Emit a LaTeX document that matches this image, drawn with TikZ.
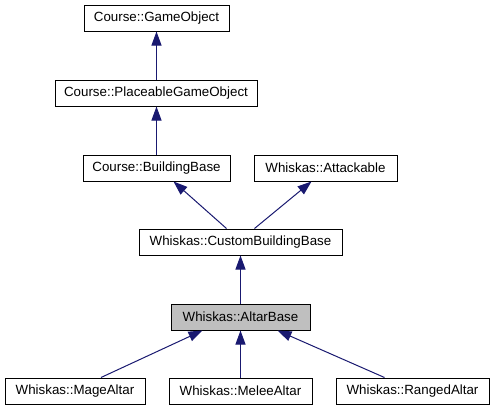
\documentclass[tikz,border=0pt]{standalone}
\usepackage{fontspec}
\setmainfont{Liberation Sans}
\usetikzlibrary{arrows.meta}
\definecolor{edgeblue}{HTML}{191970}
\definecolor{boxgray}{HTML}{BFBFBF}
\begin{document}
\begin{tikzpicture}[x=0.75pt,y=-0.75pt,
  cls/.style={draw=black, line width=0.75pt, fill=white, inner sep=0pt, minimum height=19.5pt, font=\fontsize{10pt}{12pt}\selectfont},
  edge/.style={draw=edgeblue, line width=0.75pt, -{Triangle[length=10.5pt,width=7.5pt]}}]
\useasboundingbox (0,0) rectangle (494,411);
\node[cls, minimum width=108.75pt] (go) at (156.5,18) {Course::GameObject};
\node[cls, minimum width=151.5pt] (pgo) at (156,93) {Course::PlaceableGameObject};
\node[cls, minimum width=110.25pt] (bb) at (156.5,168) {Course::BuildingBase};
\node[cls, minimum width=107.25pt] (att) at (325.5,168) {Whiskas::Attackable};
\node[cls, minimum width=152.25pt] (cbb) at (240.5,242) {Whiskas::CustomBuildingBase};
\node[cls, minimum width=104.25pt, fill=boxgray] (ab) at (240.5,317) {Whiskas::AltarBase};
\node[cls, minimum width=105pt] (mage) at (75,391) {Whiskas::MageAltar};
\node[cls, minimum width=107.25pt] (melee) at (240.5,391) {Whiskas::MeleeAltar};
\node[cls, minimum width=114.75pt] (ranged) at (412.5,391) {Whiskas::RangedAltar};

\draw[edge] (pgo.north -| go.south) -- (go.south);
\draw[edge] (bb.north) -- (pgo.south -| bb.north);
\draw[edge] ([xshift=-10.5pt]cbb.north) -- ([xshift=12.75pt]bb.south);
\draw[edge] ([xshift=10.5pt]cbb.north) -- ([xshift=-10.5pt]att.south);
\draw[edge] (ab.north) -- (cbb.south);
\draw[edge] ([xshift=19.5pt]mage.north) -- ([xshift=-28.5pt]ab.south);
\draw[edge] (melee.north) -- (ab.south);
\draw[edge] ([xshift=-21pt]ranged.north) -- ([xshift=27.75pt]ab.south);
\end{tikzpicture}
\end{document}
